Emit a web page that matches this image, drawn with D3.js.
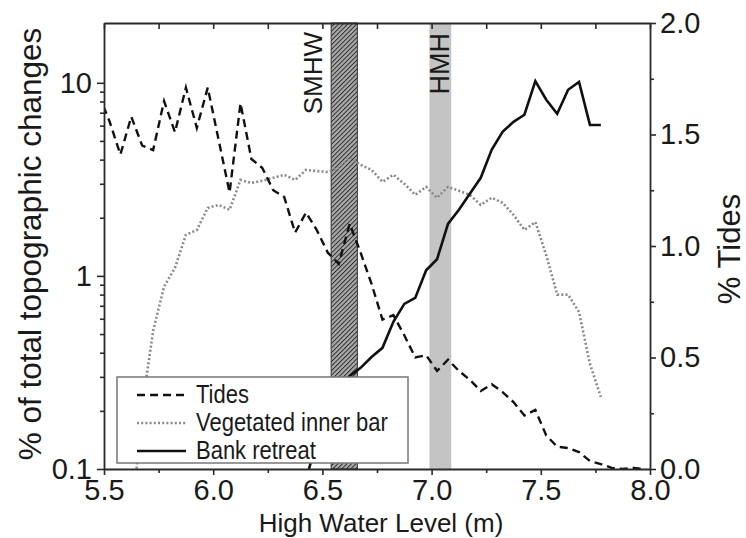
<!DOCTYPE html>
<html>
<head>
<meta charset="utf-8">
<script src="https://cdn.jsdelivr.net/npm/d3@7"></script>
<style>
  body { margin: 0; background: #fff; }
  svg text { font-family: "Liberation Sans", Arial, sans-serif; fill: #1a1a1a; }
</style>
</head>
<body>
<script>
// high water level bins (m)
var levels = [5.475, 5.525, 5.575, 5.625, 5.675, 5.725, 5.775, 5.825, 5.875, 5.925,
              5.975, 6.025, 6.075, 6.125, 6.175, 6.225, 6.275, 6.325, 6.375, 6.425,
              6.475, 6.525, 6.575, 6.625, 6.675, 6.725, 6.775, 6.825, 6.875, 6.925,
              6.975, 7.025, 7.075, 7.125, 7.175, 7.225, 7.275, 7.325, 7.375, 7.425,
              7.475, 7.525, 7.575, 7.625, 7.675, 7.725, 7.775, 7.825, 7.875, 7.925,
              7.975];

// % tides (right axis)
var tides = [1.68, 1.56, 1.41, 1.58, 1.45, 1.43, 1.65, 1.51, 1.71, 1.53,
             1.71, 1.475, 1.24, 1.64, 1.39, 1.35, 1.25, 1.22, 1.06, 1.15,
             1.07, 0.97, 0.92, 1.10, 0.97, 0.83, 0.67, 0.69, 0.60, 0.50,
             0.51, 0.44, 0.49, 0.44, 0.40, 0.35, 0.38, 0.345, 0.30, 0.24,
             0.265, 0.15, 0.10, 0.094, 0.076, 0.036, 0.022, 0.005, 0, 0.005,
             0];

// % of total topographic changes (left log axis)
var vegetated = [null, null, null, 0.05, 0.21, 0.52, 0.88, 1.10, 1.63, 1.73,
                 2.25, 2.33, 2.20, 3.14, 3.03, 3.11, 3.22, 3.34, 3.14, 3.54,
                 3.49, 3.45, 3.63, 4.1, 3.76, 3.54, 3.07, 3.34, 3.0, 2.63,
                 2.89, 2.54, 2.89, 2.76, 2.63, 2.33, 2.54, 2.39, 2.07, 1.73,
                 1.90, 1.28, 0.80, 0.80, 0.65, 0.35, 0.236, null, null, null,
                 null];

var bankRetreat = [null, null, null, null, null, null, null, null, null, null,
                   null, null, null, null, null, null, null, null, null, 0.088,
                   0.141, 0.202, 0.257, 0.303, 0.334, 0.38, 0.424, 0.578, 0.716, 0.769,
                   1.07, 1.22, 1.86, 2.20, 2.66, 3.22, 4.50, 5.57, 6.28, 6.83,
                   10.2, 8.17, 6.91, 9.2, 10.1, 6.05, 6.05, null, null, null,
                   null];

// reference levels drawn as bands
var bands = [
  {name: "SMHW", x0: 6.54, x1: 6.66, hatched: true},
  {name: "HMH", x0: 6.99, x1: 7.09, hatched: false}
];

var xTicks = [5.5, 6.0, 6.5, 7.0, 7.5, 8.0];
var xMinor = [5.75, 6.25, 6.75, 7.25, 7.75];
var leftTicks = [0.1, 1, 10];
var leftMinor = [0.2, 0.3, 0.4, 0.5, 0.6, 0.7, 0.8, 0.9, 2, 3, 4, 5, 6, 7, 8, 9];
var rightTicks = [0, 0.5, 1.0, 1.5, 2.0];
var rightMinor = [0.25, 0.75, 1.25, 1.75];

var width = 746, height = 538;
var pl = 104, pr = 650, pt = 23, pb = 469;

var svg = d3.select("body").append("svg")
    .attr("width", width)
    .attr("height", height);

var x = d3.scaleLinear().domain([5.5, 8.0]).range([pl, pr]);
var yL = d3.scaleLog().domain([0.1, 20.4]).range([pb, pt]);
var yR = d3.scaleLinear().domain([0, 2]).range([pb, pt]);

var defs = svg.append("defs");
defs.append("clipPath").attr("id", "plot")
  .append("rect")
    .attr("x", pl).attr("y", pt)
    .attr("width", pr - pl).attr("height", pb - pt);

var pat = defs.append("pattern")
    .attr("id", "hatch")
    .attr("patternUnits", "userSpaceOnUse")
    .attr("width", 3.2).attr("height", 3.2)
    .attr("patternTransform", "rotate(45)");
pat.append("rect").attr("width", 3.2).attr("height", 3.2).attr("fill", "#a8a8a8");
pat.append("line").attr("x1", 0).attr("y1", 0).attr("x2", 0).attr("y2", 3.2)
    .attr("stroke", "#262626").attr("stroke-width", 1.8);

// bands
bands.forEach(function(b) {
  svg.append("rect")
      .attr("x", x(b.x0))
      .attr("y", pt)
      .attr("width", x(b.x1) - x(b.x0))
      .attr("height", pb - pt)
      .attr("fill", b.hatched ? "url(#hatch)" : "#c4c4c4")
      .attr("stroke", b.hatched ? "#333" : "none")
      .attr("stroke-width", 1);
});

// band labels
svg.append("text")
    .attr("transform", "translate(" + (x(6.54) - 9) + "," + 32 + ") rotate(-90)")
    .attr("text-anchor", "end")
    .style("font-size", "26px")
    .text("SMHW");
svg.append("text")
    .attr("transform", "translate(" + (x(7.09) - 2) + "," + 33 + ") rotate(-90)")
    .attr("text-anchor", "end")
    .style("font-size", "27px")
    .text("HMH");

// series
var rows = levels.map(function(l, i) {
  return {x: l, tides: tides[i], veg: vegetated[i], bank: bankRetreat[i]};
});

var g = svg.append("g").attr("clip-path", "url(#plot)");

var vegLine = d3.line()
    .defined(function(d) { return d.veg != null; })
    .x(function(d) { return x(d.x); })
    .y(function(d) { return yL(d.veg); });
var bankLine = d3.line()
    .defined(function(d) { return d.bank != null; })
    .x(function(d) { return x(d.x); })
    .y(function(d) { return yL(d.bank); });
var tideLine = d3.line()
    .x(function(d) { return x(d.x); })
    .y(function(d) { return yR(d.tides); });

g.append("path").datum(rows)
    .attr("d", vegLine)
    .attr("fill", "none")
    .attr("stroke", "#8a8a8a")
    .attr("stroke-width", 2.6)
    .attr("stroke-dasharray", "2,2.2");
g.append("path").datum(rows)
    .attr("d", tideLine)
    .attr("fill", "none")
    .attr("stroke", "#111")
    .attr("stroke-width", 2.4)
    .attr("stroke-dasharray", "8,5");
g.append("path").datum(rows)
    .attr("d", bankLine)
    .attr("fill", "none")
    .attr("stroke", "#111")
    .attr("stroke-width", 2.6)
    .attr("stroke-linejoin", "miter");

// axes
function styleAxis(sel) {
  sel.selectAll(".domain").attr("stroke", "#2a2a2a").attr("stroke-width", 1.8);
  sel.selectAll(".tick line").attr("stroke", "#2a2a2a").attr("stroke-width", 1.6);
  sel.selectAll(".tick text").style("font-size", "29px").attr("fill", "#1a1a1a");
}

var xAxis = svg.append("g")
    .attr("transform", "translate(0," + pb + ")")
    .call(d3.axisBottom(x).tickValues(xTicks).tickSize(6).tickSizeOuter(0)
          .tickPadding(4).tickFormat(d3.format(".1f")));
styleAxis(xAxis);
svg.append("g")
    .attr("transform", "translate(0," + pb + ")")
    .call(d3.axisBottom(x).tickValues(xMinor).tickSize(4).tickFormat(""))
    .call(styleAxis)
    .select(".domain").remove();

var xTop = svg.append("g")
    .attr("transform", "translate(0," + pt + ")")
    .call(d3.axisBottom(x).tickValues(xTicks.concat(xMinor)).tickSize(6).tickSizeOuter(0).tickFormat(""));
styleAxis(xTop);

var yAxisL = svg.append("g")
    .attr("transform", "translate(" + pl + ",0)")
    .call(d3.axisLeft(yL).tickValues(leftTicks).tickSize(7).tickSizeOuter(0)
          .tickPadding(5).tickFormat(d3.format("")));
styleAxis(yAxisL);
svg.append("g")
    .attr("transform", "translate(" + pl + ",0)")
    .call(d3.axisLeft(yL).tickValues(leftMinor).tickSize(4).tickFormat(""))
    .call(styleAxis)
    .select(".domain").remove();

var yAxisR = svg.append("g")
    .attr("transform", "translate(" + pr + ",0)")
    .call(d3.axisRight(yR).tickValues(rightTicks).tickSize(6).tickSizeOuter(0)
          .tickPadding(4).tickFormat(d3.format(".1f")));
styleAxis(yAxisR);
svg.append("g")
    .attr("transform", "translate(" + pr + ",0)")
    .call(d3.axisRight(yR).tickValues(rightMinor).tickSize(4).tickFormat(""))
    .call(styleAxis)
    .select(".domain").remove();

// axis titles
svg.append("text")
    .attr("x", (pl + pr) / 2 + 4)
    .attr("y", 532)
    .attr("text-anchor", "middle")
    .style("font-size", "26px")
    .text("High Water Level (m)");
svg.append("text")
    .attr("transform", "translate(41," + ((pt + pb) / 2 - 2) + ") rotate(-90)")
    .attr("text-anchor", "middle")
    .style("font-size", "31.5px")
    .text("% of total topographic changes");
svg.append("text")
    .attr("transform", "translate(740,249) rotate(-90)")
    .attr("text-anchor", "middle")
    .style("font-size", "31px")
    .text("% Tides");

// legend
var legend = svg.append("g");
legend.append("rect")
    .attr("x", 117).attr("y", 377)
    .attr("width", 291).attr("height", 86)
    .attr("fill", "#fff")
    .attr("stroke", "#777")
    .attr("stroke-width", 1.5);

var legendItems = [
  {label: "Tides", color: "#111", dash: "8,5", w: 2.4},
  {label: "Vegetated inner bar", color: "#8a8a8a", dash: "2,2.2", w: 2.6},
  {label: "Bank retreat", color: "#111", dash: null, w: 2.6}
];
legendItems.forEach(function(d, i) {
  var yy = 395 + i * 28;
  legend.append("line")
      .attr("x1", 137).attr("x2", 186)
      .attr("y1", yy).attr("y2", yy)
      .attr("stroke", d.color)
      .attr("stroke-width", d.w)
      .attr("stroke-dasharray", d.dash);
  legend.append("text")
      .attr("transform", "translate(196," + (yy + 8) + ") scale(1,1.15)")
      .style("font-size", "22px")
      .text(d.label);
});
</script>
</body>
</html>
